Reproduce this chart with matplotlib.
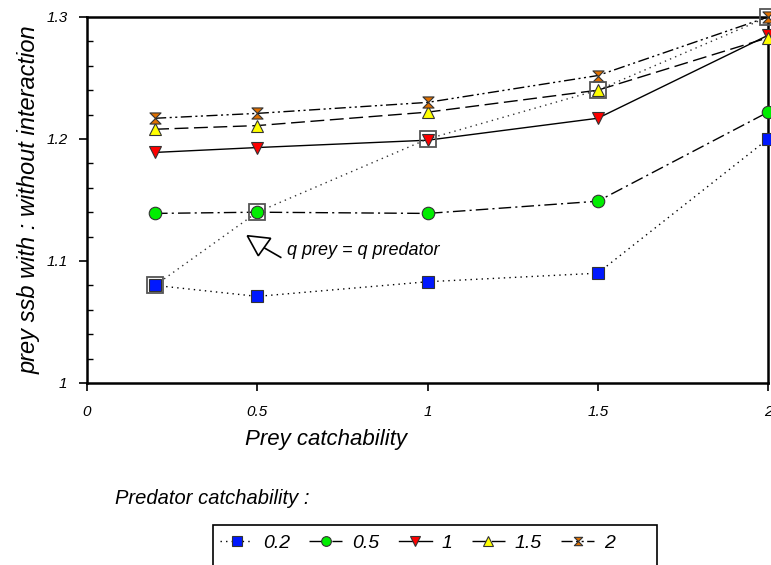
import matplotlib
matplotlib.use("Agg")
import matplotlib.pyplot as plt
from matplotlib.path import Path
from matplotlib.patches import Rectangle, Polygon
from matplotlib.lines import Line2D
from matplotlib.ticker import MultipleLocator

plt.rcParams["font.family"] = ["Liberation Sans Narrow", "Liberation Sans", "DejaVu Sans"]
plt.rcParams["font.style"] = "italic"

x = [0.2, 0.5, 1.0, 1.5, 2.0]
s02 = [1.080, 1.071, 1.083, 1.090, 1.200]
s05 = [1.139, 1.140, 1.139, 1.149, 1.222]
s1 = [1.189, 1.193, 1.199, 1.217, 1.285]
s15 = [1.208, 1.211, 1.222, 1.240, 1.283]
s2 = [1.217, 1.221, 1.230, 1.252, 1.300]
diag = [1.080, 1.140, 1.200, 1.240, 1.300]
labels = ["0.2", "0.5", "1", "1.5", "2"]

hourglass = Path([(-1, 1), (1, 1), (-1, -1), (1, -1), (-1, 1)],
                 [Path.MOVETO, Path.LINETO, Path.LINETO, Path.LINETO, Path.CLOSEPOLY])

STYLE = [
    (s02, (0, (1, 3)), "s", "#0018ff", 9),
    (s05, (0, (9, 3, 1.5, 3)), "o", "#00ee00", 9),
    (s1, "-", "v", "#ff0000", 9),
    (s15, (0, (10, 4)), "^", "#ffff00", 9),
    (s2, (0, (8, 2.5, 1.5, 2.5, 1.5, 2.5)), hourglass, "#e07000", 8),
]

fig = plt.figure(figsize=(7.71, 5.65), dpi=100)
ax = fig.add_axes([87 / 771, 1 - 383 / 565, (768 - 87) / 771, (383 - 17) / 565])

handles = []
for ys, ls, mk, col, ms in STYLE:
    ax.plot(x, ys, linestyle=ls, color="black", lw=1.0, zorder=2)
    ax.plot(x, ys, linestyle="none", marker=mk, ms=ms, mfc=col, mec="#333333",
            mew=0.8, zorder=4, clip_on=False)
    handles.append(Line2D([], [], linestyle=ls, color="black", lw=1.0, marker=mk,
                          ms=ms - 2, mfc=col, mec="#333333", mew=0.8))

# q prey = q predator
ax.plot(x, diag, linestyle=(0, (1, 3)), color="#333333", lw=1.0, zorder=3)
ax.plot(x, diag, linestyle="none", marker="s", ms=11, mfc="none", mec="#555555",
        mew=1.3, zorder=5, clip_on=False)

# open arrow pointing at the diagonal
ax.add_patch(Polygon([(0.4708, 1.1207), (0.5395, 1.1186), (0.5031, 1.1043)],
                     closed=True, fc="white", ec="black", lw=1.2, zorder=6))
ax.plot([0.5228, 0.5689], [1.1104, 1.1030], color="black", lw=1.2, zorder=6)
ax.text(0.587, 1.109, "q prey = q predator", fontsize=13, va="center", ha="left")

ax.set_xlim(0, 2)
ax.set_ylim(1, 1.3)
ax.set_xticks([0, 0.5, 1, 1.5, 2])
ax.set_xticklabels(["0", "0.5", "1", "1.5", "2"])
ax.set_yticks([1, 1.1, 1.2, 1.3])
ax.set_yticklabels(["1", "1.1", "1.2", "1.3"])
ax.yaxis.set_minor_locator(MultipleLocator(0.02))
ax.tick_params(axis="both", which="major", direction="out", length=6, width=1.2,
               labelsize=11, pad=8)
ax.tick_params(axis="x", which="major", pad=10)
ax.tick_params(axis="y", which="minor", direction="in", length=4, width=1.0)
for sp in ax.spines.values():
    sp.set_linewidth(1.8)

ax.set_xlabel("Prey catchability", fontsize=16)
ax.xaxis.set_label_coords(0.351, -0.125)
ax.set_ylabel("prey ssb with : without interaction", fontsize=17, labelpad=4)

fig.text(115 / 771, 1 - 498 / 565, "Predator catchability :", fontsize=14.5,
         ha="left", va="center")

fig.patches.append(Rectangle((213 / 771, -0.05), (657 - 213) / 771, 0.05 + (565 - 525) / 565,
                             transform=fig.transFigure, fill=False, ec="black", lw=1.2))
fig.legend(handles, labels, loc="center left", bbox_to_anchor=(220 / 771, 1 - 543 / 565),
           ncol=5, frameon=False, fontsize=14, handlelength=1.7, columnspacing=1.0,
           handletextpad=0.5, borderaxespad=0, borderpad=0)

fig.savefig("out.png", dpi=100)
